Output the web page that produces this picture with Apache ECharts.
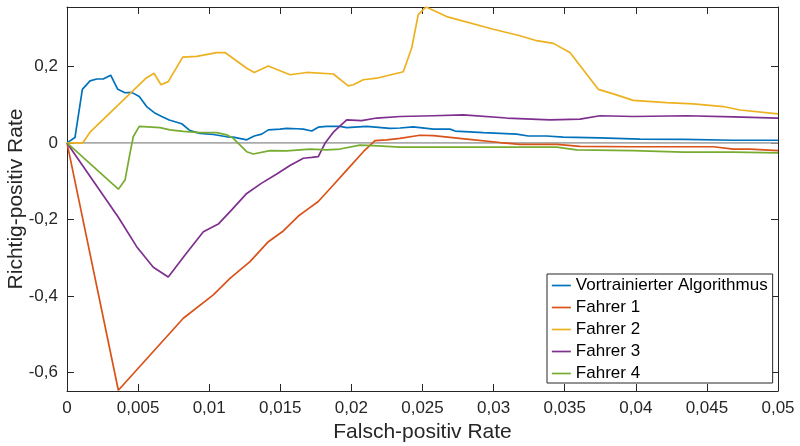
<!DOCTYPE html>
<html>
<head>
<meta charset="utf-8">
<script src="https://cdn.jsdelivr.net/npm/echarts@6/dist/echarts.min.js"></script>
<style>html,body{margin:0;padding:0;background:#fff}#c{width:800px;height:446px}</style>
</head>
<body>
<div id="c"></div>
<script>
const seriesNames = ['Vortrainierter Algorithmus', 'Fahrer 1', 'Fahrer 2', 'Fahrer 3', 'Fahrer 4'];
const xTicks = [0, 0.005, 0.01, 0.015, 0.02, 0.025, 0.03, 0.035, 0.04, 0.045, 0.05];
const yTicks = [-0.6, -0.4, -0.2, 0, 0.2];

const vortrainiert = [[0,0],[0.00056,0.014],[0.00108,0.140],[0.00162,0.162],[0.00209,0.167],[0.00255,0.167],[0.00307,0.177],[0.00357,0.140],[0.00408,0.131],[0.00455,0.132],[0.00508,0.121],[0.0056,0.095],[0.00614,0.079],[0.00666,0.069],[0.00719,0.060],[0.00807,0.050],[0.00865,0.032],[0.00935,0.025],[0.01029,0.022],[0.01123,0.016],[0.01169,0.015],[0.01264,0.008],[0.01317,0.018],[0.01369,0.023],[0.01416,0.034],[0.01498,0.036],[0.01545,0.038],[0.01615,0.037],[0.01662,0.036],[0.01721,0.031],[0.01767,0.041],[0.01826,0.043],[0.0192,0.043],[0.01967,0.040],[0.02108,0.043],[0.02271,0.038],[0.02342,0.039],[0.02435,0.042],[0.02482,0.040],[0.02576,0.036],[0.02693,0.036],[0.02729,0.031],[0.02928,0.027],[0.03162,0.023],[0.03244,0.018],[0.03373,0.018],[0.0349,0.015],[0.03748,0.013],[0.0403,0.010],[0.04334,0.009],[0.04686,0.007],[0.05,0.007]];

const fahrer1 = [[0,0],[0.00361,-0.646],[0.00818,-0.458],[0.01029,-0.397],[0.01146,-0.354],[0.01287,-0.310],[0.01416,-0.258],[0.01521,-0.230],[0.01627,-0.191],[0.01686,-0.175],[0.01767,-0.153],[0.01873,-0.110],[0.01967,-0.071],[0.02084,-0.023],[0.02166,0.006],[0.02248,0.008],[0.02342,0.012],[0.02482,0.020],[0.02576,0.019],[0.02811,0.010],[0.03045,0.001],[0.03186,-0.004],[0.03444,-0.004],[0.03608,-0.009],[0.03982,-0.010],[0.04545,-0.010],[0.04686,-0.016],[0.04803,-0.016],[0.05,-0.020]];

const fahrer2 = [[0,0],[0.0011,0],[0.00162,0.028],[0.00556,0.169],[0.00612,0.182],[0.00661,0.152],[0.00712,0.160],[0.00814,0.224],[0.00912,0.226],[0.01053,0.236],[0.01111,0.236],[0.01264,0.195],[0.01317,0.184],[0.01416,0.201],[0.01568,0.178],[0.01686,0.184],[0.01873,0.180],[0.01978,0.149],[0.02013,0.152],[0.02084,0.165],[0.02178,0.169],[0.02365,0.186],[0.02424,0.248],[0.0247,0.335],[0.02525,0.355],[0.0267,0.330],[0.02998,0.297],[0.03186,0.280],[0.03303,0.267],[0.0342,0.260],[0.03537,0.236],[0.03736,0.140],[0.03842,0.128],[0.03982,0.111],[0.04217,0.105],[0.04404,0.102],[0.04615,0.095],[0.04733,0.086],[0.05,0.076]];

const fahrer3 = [[0,0],[0.00361,-0.194],[0.0049,-0.271],[0.00607,-0.325],[0.00712,-0.350],[0.0083,-0.293],[0.00959,-0.232],[0.01064,-0.212],[0.01158,-0.175],[0.01264,-0.132],[0.01369,-0.105],[0.01475,-0.081],[0.01568,-0.059],[0.01662,-0.040],[0.01721,-0.038],[0.01767,-0.036],[0.01814,-0.001],[0.01873,0.028],[0.01967,0.060],[0.02072,0.058],[0.02178,0.065],[0.02342,0.069],[0.02576,0.071],[0.02787,0.073],[0.03092,0.065],[0.03397,0.060],[0.03608,0.062],[0.03748,0.071],[0.03982,0.069],[0.04358,0.071],[0.04686,0.068],[0.05,0.065]];

const fahrer4 = [[0,0],[0.00361,-0.121],[0.00408,-0.097],[0.00443,-0.027],[0.00466,0.016],[0.00508,0.043],[0.00654,0.040],[0.00724,0.034],[0.00818,0.030],[0.00935,0.027],[0.01053,0.027],[0.01123,0.021],[0.01169,0.012],[0.01264,-0.023],[0.0131,-0.029],[0.01428,-0.020],[0.01545,-0.021],[0.01709,-0.016],[0.01826,-0.018],[0.0192,-0.016],[0.0206,-0.006],[0.02154,-0.007],[0.02342,-0.011],[0.02693,-0.011],[0.03444,-0.011],[0.03584,-0.018],[0.03982,-0.020],[0.04334,-0.024],[0.04686,-0.024],[0.05,-0.026]];

const zeroLine = [[0,0],[0.05,0]];

const colors = ['#0072BD', '#D95319', '#EDB120', '#7E2F8E', '#77AC30'];
const seriesData = [vortrainiert, fahrer1, fahrer2, fahrer3, fahrer4];

const axisColor = '#262626';
const font = 'Liberation Sans, Arial, Helvetica, sans-serif';
const fmt = v => {
  const n = parseFloat(Number(v).toFixed(4));
  return n === 0 ? '0' : String(n).replace('.', ',');
};

const chart = echarts.init(document.getElementById('c'), null, {renderer: 'canvas'});

const series = [{
  name: 'zero', type: 'line', data: zeroLine, symbol: 'none', silent: true, z: 1,
  lineStyle: {color: '#ababab', width: 1.6}
}];
seriesNames.forEach((n, i) => {
  series.push({
    name: n, type: 'line', data: seriesData[i], symbol: 'none', z: 2 + i,
    lineStyle: {color: colors[i], width: 1.7}, itemStyle: {color: colors[i]}
  });
});

const xBase = {
  type: 'value', min: 0, max: 0.05, interval: 0.005,
  axisLine: {show: true, onZero: false, lineStyle: {color: axisColor, width: 1}},
  axisTick: {show: true, inside: true, length: 7, lineStyle: {color: axisColor}},
  splitLine: {show: false}
};
const yBase = {
  type: 'value', min: -0.648, max: 0.355,
  axisLine: {show: true, onZero: false, lineStyle: {color: axisColor, width: 1}},
  axisTick: {show: true, inside: true, length: 7, customValues: yTicks, lineStyle: {color: axisColor}},
  splitLine: {show: false}
};

chart.setOption({
  animation: false,
  backgroundColor: '#fff',
  grid: {left: 67, right: 22, top: 7, bottom: 55, containLabel: false, outerBoundsMode: 'none'},
  legend: {
    data: seriesNames,
    orient: 'vertical',
    left: 547, top: 274,
    padding: [3, 5, 1, 4],
    itemWidth: 19, itemHeight: 17, itemGap: 5,
    itemTextGap: 2,
    backgroundColor: '#fff',
    borderColor: axisColor, borderWidth: 1,
    itemStyle: {opacity: 0},
    lineStyle: {width: 1.7},
    textStyle: {fontFamily: font, fontSize: 17, color: '#000', lineHeight: 17}
  },
  xAxis: [
    Object.assign({}, xBase, {
      position: 'bottom',
      name: 'Falsch-positiv Rate', nameLocation: 'middle', nameGap: 31, nameMoveOverlap: false,
      nameTextStyle: {fontFamily: font, fontSize: 21, color: axisColor},
      axisLabel: {show: true, margin: 9, fontFamily: font, fontSize: 17, color: axisColor, formatter: fmt, customValues: xTicks}
    }),
    Object.assign({}, xBase, {position: 'top', axisLabel: {show: false}})
  ],
  yAxis: [
    Object.assign({}, yBase, {
      position: 'left',
      name: 'Richtig-positiv Rate', nameLocation: 'middle', nameGap: 40, nameRotate: 90, nameMoveOverlap: false,
      nameTextStyle: {fontFamily: font, fontSize: 21, color: axisColor},
      axisLabel: {show: true, margin: 9, fontFamily: font, fontSize: 17, color: axisColor, formatter: fmt, customValues: yTicks}
    }),
    Object.assign({}, yBase, {position: 'right', axisLabel: {show: false}})
  ],
  series: series
});
</script>
</body>
</html>
